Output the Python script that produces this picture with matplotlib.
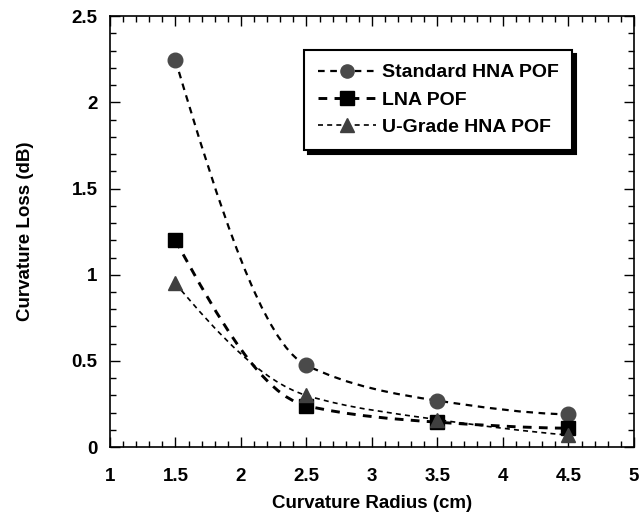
import matplotlib.pyplot as plt
import numpy as np
from matplotlib.path import Path
from matplotlib.patches import PathPatch
from matplotlib.lines import Line2D
from matplotlib.ticker import MultipleLocator

plt.rcParams['font.family'] = ['Liberation Sans', 'DejaVu Sans']
plt.rcParams['font.weight'] = 'bold'

# curvature radius (cm)
radius = [1.5, 2.5, 3.5, 4.5]
# curvature loss (dB)
standard_hna = [2.245, 0.475, 0.27, 0.19]
lna = [1.20, 0.24, 0.145, 0.11]
ugrade_hna = [0.95, 0.30, 0.16, 0.07]

labels = ["Standard HNA POF", "LNA POF", "U-Grade HNA POF"]


def smooth_path(xs, ys):
    # monotone cubic (pchip-like) bezier through the points, no overshoot
    x = np.asarray(xs, float)
    y = np.asarray(ys, float)
    h = np.diff(x)
    d = np.diff(y) / h
    n = len(x)
    m = np.zeros(n)
    for i in range(1, n - 1):
        if d[i - 1] * d[i] > 0:
            w1 = 2 * h[i] + h[i - 1]
            w2 = h[i] + 2 * h[i - 1]
            m[i] = (w1 + w2) / (w1 / d[i - 1] + w2 / d[i])
    m[0] = ((2 * h[0] + h[1]) * d[0] - h[0] * d[1]) / (h[0] + h[1])
    if np.sign(m[0]) != np.sign(d[0]):
        m[0] = 0
    m[-1] = ((2 * h[-1] + h[-2]) * d[-1] - h[-1] * d[-2]) / (h[-1] + h[-2])
    if np.sign(m[-1]) != np.sign(d[-1]):
        m[-1] = 0
    verts = [(x[0], y[0])]
    codes = [Path.MOVETO]
    for i in range(n - 1):
        verts.append((x[i] + h[i] / 3, y[i] + m[i] * h[i] / 3))
        verts.append((x[i + 1] - h[i] / 3, y[i + 1] - m[i + 1] * h[i] / 3))
        verts.append((x[i + 1], y[i + 1]))
        codes += [Path.CURVE4] * 3
    return Path(verts, codes)


fig = plt.figure(figsize=(6.43, 5.23), dpi=100)
ax = fig.add_axes([0.171, 0.145, 0.815, 0.824])
ax.set_xlim(1, 5)
ax.set_ylim(0, 2.5)

series = [
    (standard_hna, 'o', '#4a4a4a', 1.6, 10.5),
    (lna, 's', 'black', 2.1, 10.5),
    (ugrade_hna, '^', '#3f3f3f', 1.2, 10.5),
]

handles = []
for (vals, mk, mc, lw, ms), lab in zip(series, labels):
    ax.add_patch(PathPatch(smooth_path(radius, vals), facecolor='none',
                           edgecolor='black', lw=lw,
                           linestyle=(0, (3, 2.5)), zorder=2))
    ax.plot(radius, vals, linestyle='none', marker=mk, markersize=ms,
            markerfacecolor=mc, markeredgecolor=mc, zorder=3)
    handles.append(Line2D([], [], color='black', lw=lw, linestyle=(0, (3, 2.5)),
                          marker=mk, markersize=ms - 1, markerfacecolor=mc,
                          markeredgecolor=mc))

ax.xaxis.set_minor_locator(MultipleLocator(0.1))
ax.yaxis.set_minor_locator(MultipleLocator(0.1))
ax.set_xticks([1, 1.5, 2, 2.5, 3, 3.5, 4, 4.5, 5])
ax.set_xticklabels(['1', '1.5', '2', '2.5', '3', '3.5', '4', '4.5', '5'], fontweight='bold')
ax.set_yticks([0, 0.5, 1, 1.5, 2, 2.5])
ax.set_yticklabels(['0', '0.5', '1', '1.5', '2', '2.5'], fontweight='bold')
ax.tick_params(which='both', direction='in', top=True, right=True, color='black')
ax.tick_params(which='major', length=7, width=1, labelsize=13.5)
ax.tick_params(axis='x', which='major', pad=15)
ax.tick_params(axis='y', which='major', pad=9)
ax.tick_params(which='minor', length=4, width=1)
for s in ax.spines.values():
    s.set_linewidth(1.2)

ax.set_xlabel('Curvature Radius (cm)', fontsize=13.5, fontweight='bold', labelpad=7)
ax.set_ylabel('Curvature Loss (dB)', fontsize=13.5, fontweight='bold', labelpad=27)

leg = ax.legend(handles, labels, loc='upper right', bbox_to_anchor=(0.882, 0.921),
                fancybox=False, shadow={'color': 'black', 'alpha': 1, 'ox': 3, 'oy': -3},
                edgecolor='black', fontsize=14, handlelength=3.0,
                handletextpad=0.3, borderpad=0.7, labelspacing=0.5,
                borderaxespad=0)
leg.get_frame().set_linewidth(1.5)
for t in leg.get_texts():
    t.set_fontweight('bold')

fig.savefig('out.png', dpi=100)
